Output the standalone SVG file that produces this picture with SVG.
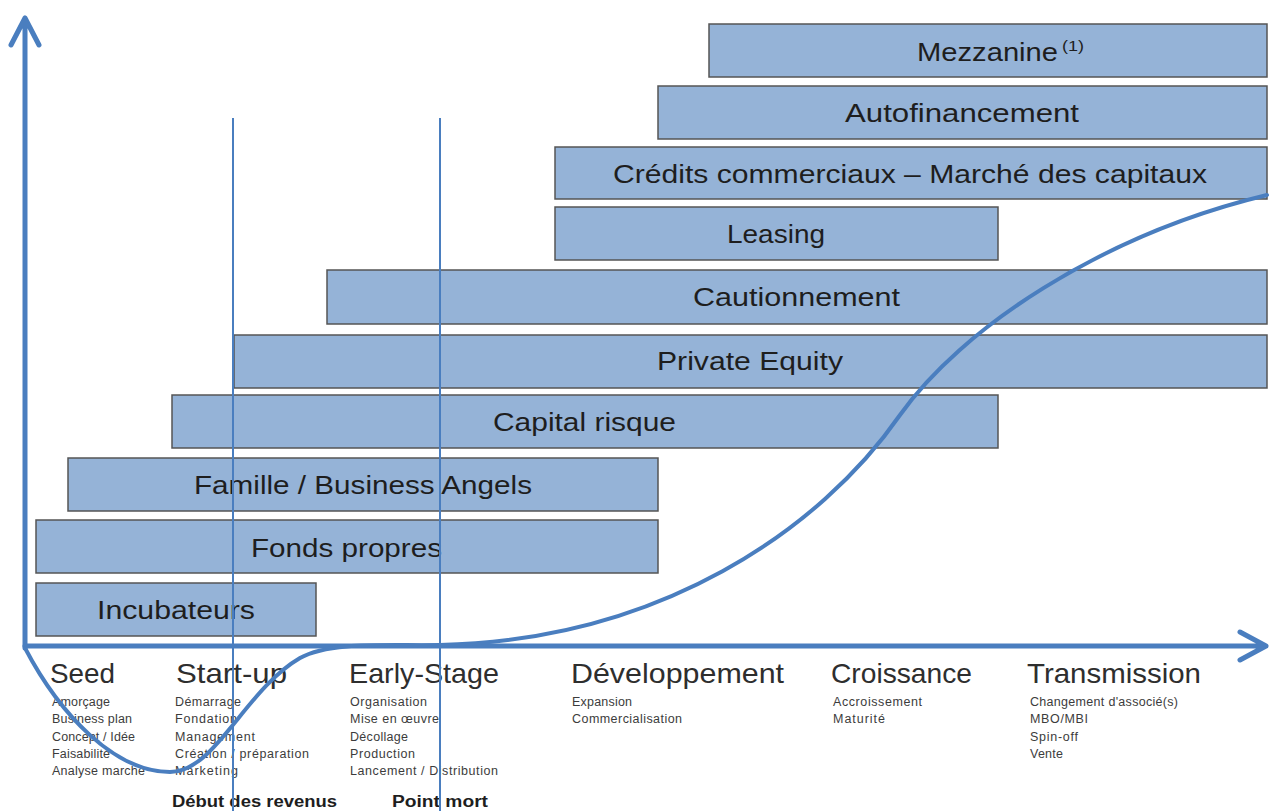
<svg xmlns="http://www.w3.org/2000/svg" width="1269" height="811" viewBox="0 0 1269 811">
<style>
.box{fill:#95b3d7;stroke:#555;stroke-width:1.5}
.bt{font-family:"Liberation Sans",Arial,sans-serif;font-size:26px;fill:#1e1e1e}
.sup{font-family:"Liberation Sans",Arial,sans-serif;font-size:14px;fill:#1e1e1e}
.st{font-family:"Liberation Sans",Arial,sans-serif;font-size:28px;fill:#2e2e2e}
.sm{font-family:"Liberation Sans",Arial,sans-serif;font-size:12.5px;fill:#3c3c3c}
.bd{font-family:"Liberation Sans",Arial,sans-serif;font-size:16px;font-weight:bold;fill:#1e1e1e}
.ax{fill:none;stroke:#4a7ebf;stroke-width:5;stroke-linecap:round;stroke-linejoin:round}
.vl{stroke:#4a7ebf;stroke-width:2}
.cv{fill:none;stroke:#4a7ebf;stroke-width:4;stroke-linecap:round}
</style>
<rect width="1269" height="811" fill="#fff"/>
<g id="mezzanine"><rect class="box" x="709" y="24" width="558" height="53"/><text class="bt" x="917" y="61" textLength="141" lengthAdjust="spacingAndGlyphs">Mezzanine</text><text class="sup" x="1062" y="51" textLength="22" lengthAdjust="spacingAndGlyphs">(1)</text></g>
<g id="autofinancement"><rect class="box" x="658" y="86" width="609" height="53"/><text class="bt" x="845" y="122" textLength="234" lengthAdjust="spacingAndGlyphs">Autofinancement</text></g>
<g id="credits"><rect class="box" x="555" y="147" width="712" height="52"/><text class="bt" x="613" y="183" textLength="594" lengthAdjust="spacingAndGlyphs">Crédits commerciaux – Marché des capitaux</text></g>
<g id="leasing"><rect class="box" x="555" y="207" width="443" height="53"/><text class="bt" x="727" y="243" textLength="98" lengthAdjust="spacingAndGlyphs">Leasing</text></g>
<g id="cautionnement"><rect class="box" x="327" y="270" width="940" height="54"/><text class="bt" x="693" y="306" textLength="207" lengthAdjust="spacingAndGlyphs">Cautionnement</text></g>
<g id="private-equity"><rect class="box" x="234" y="335" width="1033" height="53"/><text class="bt" x="657" y="370" textLength="186" lengthAdjust="spacingAndGlyphs">Private Equity</text></g>
<g id="capital-risque"><rect class="box" x="172" y="395" width="826" height="53"/><text class="bt" x="493" y="431" textLength="183" lengthAdjust="spacingAndGlyphs">Capital risque</text></g>
<g id="famille"><rect class="box" x="68" y="458" width="590" height="53"/><text class="bt" x="194" y="494" textLength="338" lengthAdjust="spacingAndGlyphs">Famille / Business Angels</text></g>
<g id="fonds-propres"><rect class="box" x="36" y="520" width="622" height="53"/><text class="bt" x="251" y="557" textLength="191" lengthAdjust="spacingAndGlyphs">Fonds propres</text></g>
<g id="incubateurs"><rect class="box" x="36" y="583" width="280" height="53"/><text class="bt" x="97" y="619" textLength="158" lengthAdjust="spacingAndGlyphs">Incubateurs</text></g>

<g id="stage-seed"><text class="st" x="50" y="683" textLength="65" lengthAdjust="spacingAndGlyphs">Seed</text>
<text class="sm" lengthAdjust="spacingAndGlyphs"><tspan x="52" y="706" textLength="58">Amorçage</tspan><tspan x="52" y="723" textLength="80">Business plan</tspan><tspan x="52" y="741" textLength="83">Concept / Idée</tspan><tspan x="52" y="758" textLength="58">Faisabilité</tspan><tspan x="52" y="775" textLength="93">Analyse marche</tspan></text></g>
<g id="stage-startup"><text class="st" x="176" y="683" textLength="111" lengthAdjust="spacingAndGlyphs">Start-up</text>
<text class="sm"><tspan x="175" y="706" textLength="66">Démarrage</tspan><tspan x="175" y="723" textLength="62">Fondation</tspan><tspan x="175" y="741" textLength="80">Management</tspan><tspan x="175" y="758" textLength="134">Création / préparation</tspan><tspan x="175" y="775" textLength="63">Marketing</tspan></text></g>
<g id="stage-early"><text class="st" x="349" y="683" textLength="150" lengthAdjust="spacingAndGlyphs">Early-Stage</text>
<text class="sm"><tspan x="350" y="706" textLength="77">Organisation</tspan><tspan x="350" y="723" textLength="89">Mise en œuvre</tspan><tspan x="350" y="741" textLength="58">Décollage</tspan><tspan x="350" y="758" textLength="65">Production</tspan><tspan x="350" y="775" textLength="148">Lancement / Distribution</tspan></text></g>
<g id="stage-dev"><text class="st" x="571" y="683" textLength="213" lengthAdjust="spacingAndGlyphs">Développement</text>
<text class="sm"><tspan x="572" y="706" textLength="60">Expansion</tspan><tspan x="572" y="723" textLength="110">Commercialisation</tspan></text></g>
<g id="stage-croissance"><text class="st" x="831" y="683" textLength="141" lengthAdjust="spacingAndGlyphs">Croissance</text>
<text class="sm"><tspan x="833" y="706" textLength="89">Accroissement</tspan><tspan x="833" y="723" textLength="52">Maturité</tspan></text></g>
<g id="stage-transmission"><text class="st" x="1027" y="683" textLength="174" lengthAdjust="spacingAndGlyphs">Transmission</text>
<text class="sm"><tspan x="1030" y="706" textLength="148">Changement d'associé(s)</tspan><tspan x="1030" y="723" textLength="58">MBO/MBI</tspan><tspan x="1030" y="741" textLength="48">Spin-off</tspan><tspan x="1030" y="758" textLength="33">Vente</tspan></text></g>
<g id="milestone-revenus"><text class="bd" x="172" y="807" textLength="165" lengthAdjust="spacingAndGlyphs">Début des revenus</text></g>
<g id="milestone-point-mort"><text class="bd" x="392" y="807" textLength="96" lengthAdjust="spacingAndGlyphs">Point mort</text></g>

<g id="connectors">
<line class="vl" x1="233" y1="118" x2="233" y2="811"/>
<line class="vl" x1="440" y1="118" x2="440" y2="811"/>
<path class="ax" d="M25,648 V18 M11,45 L25,18 L39,45"/>
<path class="ax" d="M25,646 H1266 M1240,632 L1266,646 L1240,660"/>
<path class="cv" d="M25,648 C60,715 115,772 170,772 C215,772 245,690 300,658 C330,641 390,646 440,645 C660,640 820,530 900,415 C960,330 1100,235 1267,195"/>
</g>
</svg>
